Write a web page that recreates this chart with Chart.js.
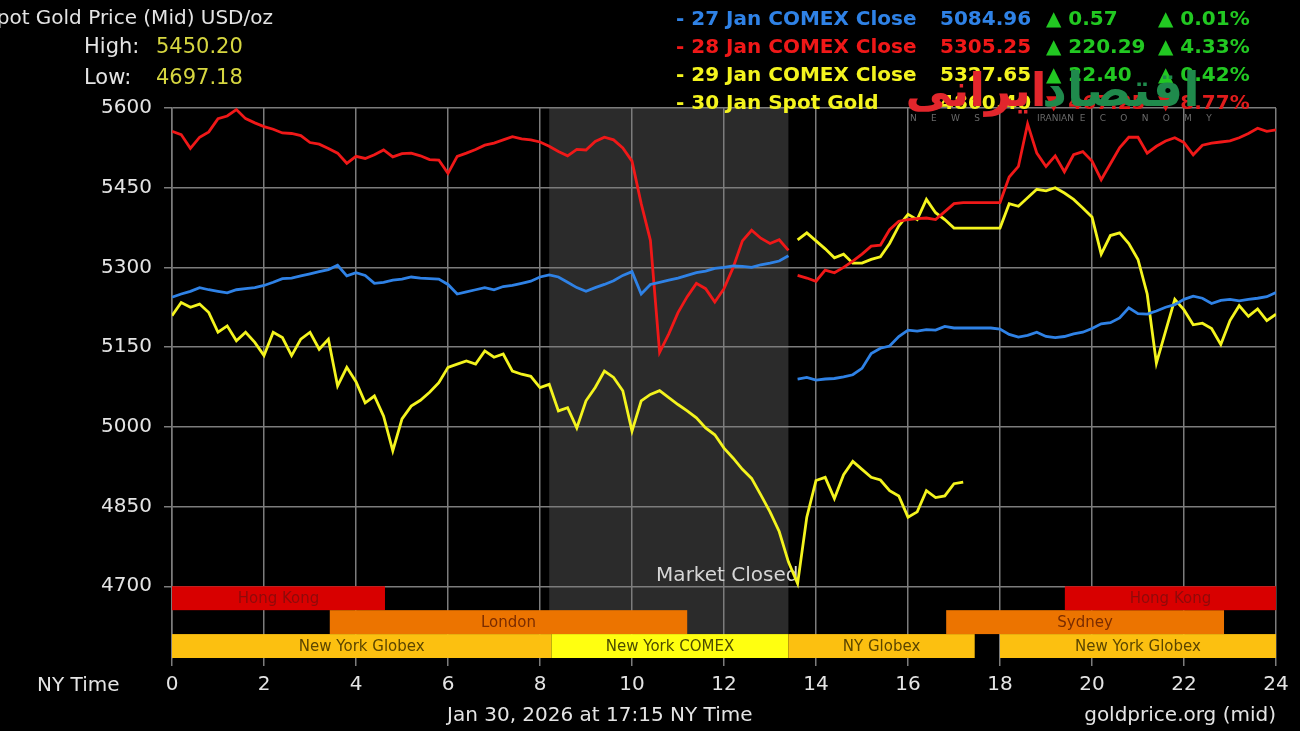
<!DOCTYPE html>
<html>
<head>
<meta charset="utf-8">
<script src="https://cdn.jsdelivr.net/npm/chart.js@4.4.1/dist/chart.umd.min.js"></script>
<style>
  html, body { margin: 0; padding: 0; background: #000; overflow: hidden; }
</style>
</head>
<body>
<canvas id="goldChart" width="1300" height="731"></canvas>
<script>
// NY time of day (hours) - before and after the COMEX close gap
const hoursAM = [
  0, 0.2, 0.4, 0.6, 0.8, 1, 1.2, 1.4, 1.6, 1.8,
  2, 2.2, 2.4, 2.6, 2.8, 3, 3.2, 3.4, 3.6, 3.8,
  4, 4.2, 4.4, 4.6, 4.8, 5, 5.2, 5.4, 5.6, 5.8,
  6, 6.2, 6.4, 6.6, 6.8, 7, 7.2, 7.4, 7.6, 7.8,
  8, 8.2, 8.4, 8.6, 8.8, 9, 9.2, 9.4, 9.6, 9.8,
  10, 10.2, 10.4, 10.6, 10.8, 11, 11.2, 11.4, 11.6, 11.8,
  12, 12.2, 12.4, 12.6, 12.8, 13, 13.2, 13.4
];
const hoursPM = [
  13.6, 13.8,
  14, 14.2, 14.4, 14.6, 14.8, 15, 15.2, 15.4, 15.6, 15.8,
  16, 16.2, 16.4, 16.6, 16.8, 17, 17.2, 17.4, 17.6, 17.8,
  18, 18.2, 18.4, 18.6, 18.8, 19, 19.2, 19.4, 19.6, 19.8,
  20, 20.2, 20.4, 20.6, 20.8, 21, 21.2, 21.4, 21.6, 21.8,
  22, 22.2, 22.4, 22.6, 22.8, 23, 23.2, 23.4, 23.6, 23.8,
  24
];

// 27 Jan (blue)
const blueAM = [
  5244, 5250, 5255, 5262, 5258, 5255, 5252, 5258, 5260, 5262,
  5266, 5272, 5279, 5280, 5284, 5288, 5292, 5296, 5304, 5284,
  5290, 5285, 5270, 5272, 5276, 5278, 5282, 5280, 5279, 5278,
  5268, 5250, 5254, 5258, 5262, 5258, 5264, 5266, 5270, 5274,
  5282, 5286, 5282, 5272, 5262, 5255, 5262, 5268, 5275, 5285,
  5292, 5250, 5268, 5272, 5276, 5280, 5285, 5290, 5293, 5298,
  5300, 5303, 5302, 5300, 5305, 5308, 5312, 5322
];
const bluePM = [
  5090, 5093,
  5088, 5090, 5091, 5094, 5098, 5110, 5138, 5148, 5152, 5170,
  5182, 5180, 5183, 5182, 5189, 5186, 5186, 5186, 5186, 5186,
  5184, 5174, 5169, 5172, 5178, 5170, 5168, 5170, 5175, 5178,
  5185, 5194, 5196, 5205, 5224, 5213, 5212, 5218, 5225, 5230,
  5240, 5246, 5242, 5232, 5238, 5240, 5237, 5240, 5242, 5245,
  5253
];

// 28 Jan (red)
const redAM = [
  5556, 5550, 5524, 5545, 5555, 5580, 5585, 5597, 5580, 5572,
  5565, 5560, 5553, 5552, 5548, 5535, 5532, 5524, 5515, 5496,
  5509, 5505, 5512, 5521, 5508, 5514, 5515, 5510, 5503, 5502,
  5477, 5509, 5515, 5522, 5530, 5534, 5540, 5546, 5542, 5540,
  5536, 5528, 5518, 5510, 5522, 5521, 5537, 5545, 5540, 5525,
  5500, 5420, 5351, 5140, 5175, 5215, 5245, 5270, 5260, 5235,
  5260, 5300, 5350, 5370, 5355, 5345, 5352, 5332
];
const redPM = [
  5285, 5280,
  5274, 5295, 5290, 5300, 5312, 5325, 5340, 5342, 5371, 5387,
  5390, 5392, 5393, 5390, 5405, 5420, 5422, 5422, 5422, 5422,
  5422, 5470, 5490, 5570, 5515, 5490, 5510, 5480, 5512, 5518,
  5500, 5465, 5495, 5525, 5545, 5545, 5515, 5528, 5538, 5544,
  5535, 5512, 5530, 5534, 5536, 5538, 5544, 5552, 5562, 5556,
  5559
];

// 29 Jan (yellow, after close)
const yellowPM = [
  5352, 5365,
  5350, 5335, 5318, 5325, 5308, 5308, 5315, 5320, 5345, 5378,
  5400, 5390, 5428, 5403, 5390, 5374, 5374, 5374, 5374, 5374,
  5374, 5420, 5415, 5431, 5447, 5444, 5450, 5440, 5428, 5412,
  5395, 5325, 5360, 5365, 5345, 5315, 5250, 5120, 5180, 5240,
  5220, 5192, 5195, 5185, 5155, 5200, 5228, 5208, 5222, 5200,
  5212
];

// 30 Jan spot gold (yellow), runs to 17:15
const spotAM = [
  5209, 5234, 5225, 5231, 5215, 5178, 5190, 5162, 5178, 5159,
  5134, 5178, 5168, 5134, 5165, 5178, 5146, 5165, 5077, 5112,
  5085, 5045, 5058, 5020, 4955, 5015, 5039, 5050, 5065, 5083,
  5112, 5118, 5124, 5118, 5143, 5131, 5137, 5105, 5099, 5095,
  5074, 5080, 5030, 5036, 4998, 5049, 5074, 5105, 5093, 5068,
  4992, 5049, 5061, 5068, 5055, 5042, 5030, 5017, 4998, 4985,
  4960, 4941, 4920, 4903, 4872, 4840, 4803, 4746
];
const spotPM = [
  4705, 4830,
  4899, 4905, 4865, 4910, 4935, 4920, 4905, 4900, 4880, 4870,
  4830, 4840, 4880, 4867, 4870, 4893, 4896
];

const yTicks = [4700, 4850, 5000, 5150, 5300, 5450, 5600];
const xTicks = [0, 2, 4, 6, 8, 10, 12, 14, 16, 18, 20, 22, 24];

// market sessions strip (hours)
const sessionNames = ['Hong Kong', 'London', 'New York Globex', 'New York COMEX', 'NY Globex', 'Sydney', 'Hong Kong', 'New York Globex'];
const sessionStart = [0, 3.43, 0, 8.25, 13.4, 16.83, 19.41, 18];
const sessionEnd = [4.63, 11.2, 8.25, 13.4, 17.45, 22.87, 24, 24];
const sessionRow = [0, 1, 2, 2, 2, 1, 0, 2];
const closedFrom = 8.2;
const closedTo = 13.4;

// legend rows
const legendLabels = ['- 27 Jan COMEX Close', '- 28 Jan COMEX Close', '- 29 Jan COMEX Close', '- 30 Jan Spot Gold'];
const legendPrices = ['5084.96', '5305.25', '5327.65', '4860.40'];
const legendChanges = ['0.57', '220.29', '22.40', '467.25'];
const legendPercents = ['0.01%', '4.33%', '0.42%', '8.77%'];
const legendUp = [true, true, true, false];

const BLUE = '#2f82e6';
const RED = '#f01818';
const YELLOW = '#f4f41e';
const GRID = '#7c7c7c';
const TEXT = '#e4e4e4';

const sessionStyle = {
  'Hong Kong': { fill: '#d80000', text: '#8e0a0a' },
  'London': { fill: '#ec7400', text: '#7a2c00' },
  'Sydney': { fill: '#ec7400', text: '#7a2c00' },
  'New York Globex': { fill: '#fcc010', text: '#5c4600' },
  'NY Globex': { fill: '#fcc010', text: '#5c4600' },
  'New York COMEX': { fill: '#ffff10', text: '#4c4c00' }
};

Chart.defaults.font.family = 'DejaVu Sans';

function toPoints(hours, values) {
  return hours.map((h, i) => ({ x: h, y: values[i] }));
}

function stripRows(chart) {
  const top = chart.scales.y.getPixelForValue(4700);
  const h = (chart.chartArea.bottom - top) / 3;
  return { top, h };
}

// black page + market closed shading, under the grid
const backdrop = {
  id: 'backdrop',
  beforeDraw(chart) {
    const { ctx, chartArea, scales } = chart;
    const rows = stripRows(chart);
    ctx.save();
    ctx.fillStyle = '#000';
    ctx.fillRect(0, 0, chart.width, chart.height);
    const x0 = scales.x.getPixelForValue(closedFrom);
    const x1 = scales.x.getPixelForValue(closedTo);
    ctx.fillStyle = '#2b2b2b';
    ctx.fillRect(x0, chartArea.top, x1 - x0, rows.top + rows.h * 2 - chartArea.top);
    ctx.restore();
  }
};

// session bars + "Market Closed" label, over the grid
const sessions = {
  id: 'sessions',
  beforeDatasetsDraw(chart) {
    const { ctx, scales } = chart;
    const rows = stripRows(chart);
    ctx.save();
    ctx.font = '15px "DejaVu Sans"';
    ctx.textAlign = 'center';
    ctx.textBaseline = 'middle';
    sessionNames.forEach((name, i) => {
      const x0 = scales.x.getPixelForValue(sessionStart[i]);
      const x1 = scales.x.getPixelForValue(sessionEnd[i]);
      const y0 = rows.top + rows.h * sessionRow[i];
      const st = sessionStyle[name];
      ctx.fillStyle = st.fill;
      ctx.fillRect(x0, y0, x1 - x0, rows.h);
      ctx.fillStyle = st.text;
      ctx.fillText(name, (x0 + x1) / 2, y0 + rows.h / 2 + 1);
    });
    ctx.font = '20px "DejaVu Sans"';
    ctx.textAlign = 'right';
    ctx.textBaseline = 'alphabetic';
    ctx.fillStyle = '#d6d6d6';
    ctx.fillText('Market Closed', scales.x.getPixelForValue(closedTo) + 10, rows.top - 5);
    ctx.restore();
  }
};

// header, legend, footer and watermark
const captions = {
  id: 'captions',
  afterDraw(chart) {
    const ctx = chart.ctx;
    ctx.save();
    ctx.textBaseline = 'alphabetic';
    ctx.textAlign = 'left';

    ctx.font = '20px "DejaVu Sans"';
    ctx.fillStyle = TEXT;
    ctx.fillText('Spot Gold Price (Mid) USD/oz', -16, 24);
    ctx.font = '21px "DejaVu Sans"';
    ctx.fillText('High:', 84, 53);
    ctx.fillText('Low:', 84, 84);
    ctx.fillStyle = '#d6d640';
    ctx.fillText('5450.20', 156, 53);
    ctx.fillText('4697.18', 156, 84);

    const colours = [BLUE, RED, YELLOW, YELLOW];
    ctx.font = 'bold 20px "DejaVu Sans"';
    legendLabels.forEach((lab, i) => {
      const y = 25 + i * 28;
      ctx.fillStyle = colours[i];
      ctx.fillText(lab, 676, y);
      ctx.fillText(legendPrices[i], 940, y);
      ctx.fillStyle = legendUp[i] ? '#22c822' : '#e01c1c';
      const arrow = legendUp[i] ? '\u25B2' : '\u25BC';
      ctx.fillText(arrow + ' ' + legendChanges[i], 1046, y);
      ctx.fillText(arrow + ' ' + legendPercents[i], 1158, y);
    });

    ctx.font = '20px "DejaVu Sans"';
    ctx.fillStyle = TEXT;
    ctx.fillText('NY Time', 37, 691);
    ctx.fillText('Jan 30, 2026 at 17:15 NY Time', 447, 721);
    ctx.textAlign = 'right';
    ctx.fillText('goldprice.org (mid)', 1276, 721);

    // watermark
    ctx.textAlign = 'center';
    ctx.font = 'bold 48px "DejaVu Sans"';
    ctx.fillStyle = '#1f8a4c';
    ctx.fillText('اقتصاد', 1121, 106);
    ctx.font = 'bold 46px "DejaVu Sans"';
    ctx.fillStyle = '#e2262c';
    ctx.fillText('ایرانی', 976, 106);
    ctx.textAlign = 'left';
    ctx.font = '9px "DejaVu Sans"';
    ctx.fillStyle = '#6a6a6a';
    ctx.fillText('N     E     W     S', 910, 121);
    ctx.fillText('IRANIAN  E     C     O     N     O     M     Y', 1037, 121);
    ctx.restore();
  }
};

const lineStyle = { borderWidth: 2.8, pointRadius: 0, tension: 0, fill: false };

new Chart(document.getElementById('goldChart'), {
  type: 'line',
  data: {
    datasets: [
      { ...lineStyle, label: '27 Jan', data: toPoints(hoursAM, blueAM), borderColor: BLUE },
      { ...lineStyle, label: '27 Jan close', data: toPoints(hoursPM, bluePM), borderColor: BLUE },
      { ...lineStyle, label: '28 Jan', data: toPoints(hoursAM, redAM), borderColor: RED },
      { ...lineStyle, label: '28 Jan close', data: toPoints(hoursPM, redPM), borderColor: RED },
      { ...lineStyle, label: '29 Jan close', data: toPoints(hoursPM, yellowPM), borderColor: YELLOW },
      { ...lineStyle, label: '30 Jan Spot', data: toPoints(hoursAM.concat(hoursPM.slice(0, spotPM.length)), spotAM.concat(spotPM)), borderColor: YELLOW }
    ]
  },
  options: {
    responsive: false,
    animation: false,
    devicePixelRatio: 1,
    layout: { padding: { top: 108, right: 24, left: 0, bottom: 0 } },
    plugins: { legend: { display: false }, tooltip: { enabled: false } },
    scales: {
      x: {
        type: 'linear',
        min: 0,
        max: 24,
        afterFit(scale) { scale.height = 73; },
        afterBuildTicks(scale) { scale.ticks = xTicks.map(v => ({ value: v })); },
        ticks: { color: TEXT, font: { size: 20 }, padding: 7, maxRotation: 0, callback: v => String(v) },
        grid: { color: GRID, lineWidth: 1.5, tickLength: 8 },
        border: { display: false }
      },
      y: {
        min: 4565,
        max: 5600,
        afterFit(scale) { scale.width = 172; },
        afterBuildTicks(scale) { scale.ticks = yTicks.map(v => ({ value: v })); },
        ticks: { color: TEXT, font: { size: 20 }, padding: 12, callback: v => String(v) },
        grid: { color: GRID, lineWidth: 1.5, tickLength: 8 },
        border: { color: GRID, width: 1.5 }
      }
    }
  },
  plugins: [backdrop, sessions, captions]
});
</script>
</body>
</html>
